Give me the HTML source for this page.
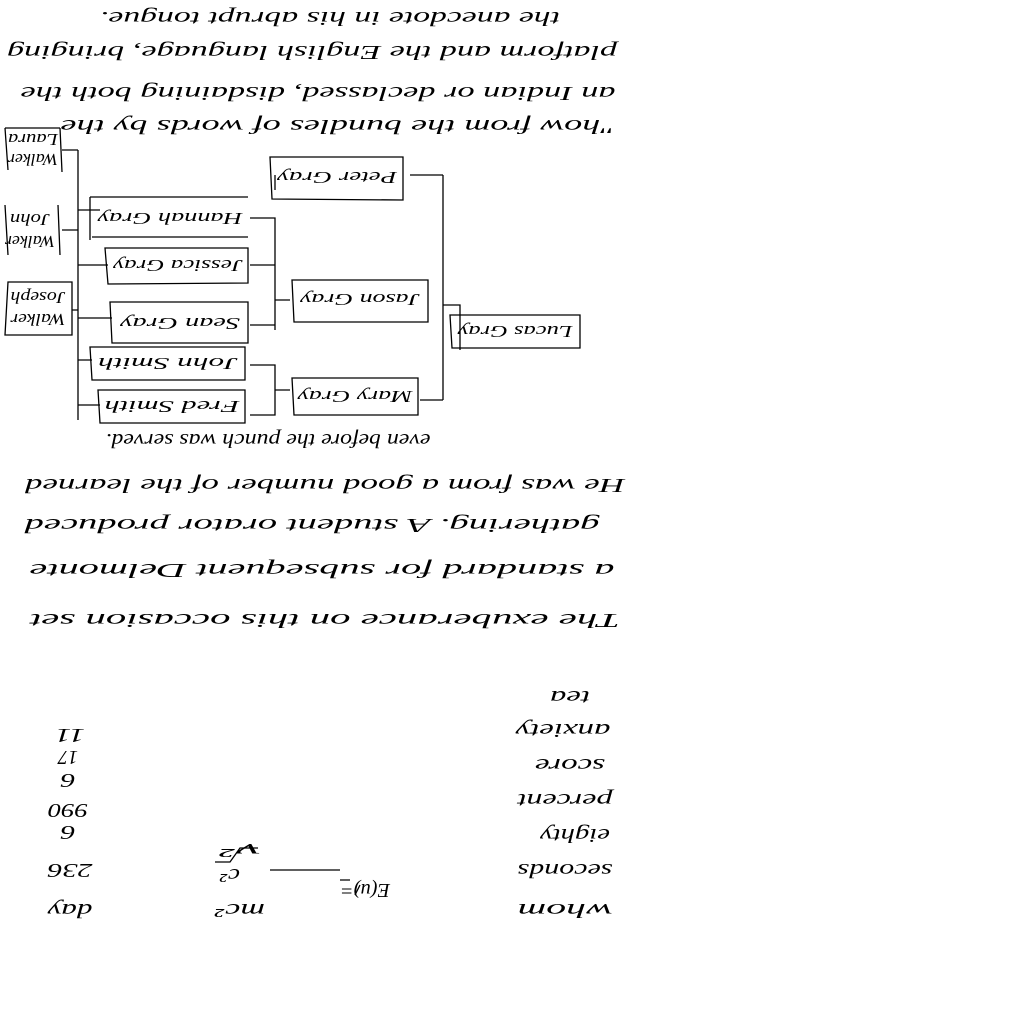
<!DOCTYPE html>
<html><head><meta charset="utf-8"><style>html,body{margin:0;padding:0;background:#fff}</style></head>
<body>
<svg width="1024" height="1024" xmlns="http://www.w3.org/2000/svg" style="display:block">
<rect width="1024" height="1024" fill="#fff"/>
<g fill="none" stroke="#000" stroke-width="1.3">
<!-- boxes -->
<path d="M270 157 L403 157 L403 200 L272 199 Z"/>
<path d="M90 197 L248 197 M90 197 L90 240 M92 237 L248 237"/>
<path d="M105 248 L248 248 L248 283 L108 284 Z"/>
<path d="M110 302 L248 302 L248 343 L112 343 Z"/>
<path d="M90 347 L245 347 L245 380 L92 380 Z"/>
<path d="M98 390 L245 390 L245 423 L100 423 Z"/>
<path d="M292 280 L428 280 L428 322 L294 322 Z"/>
<path d="M292 378 L418 378 L418 415 L294 415 Z"/>
<path d="M450 315 L580 315 L580 348 L452 348 Z"/>
<path d="M5 128 L8 170 M60 128 L62 172 M5 128 L60 128"/>
<path d="M5 205 L8 255 M58 205 L60 255"/>
<path d="M8 282 L72 282 L72 335 L5 335 Z"/>
<!-- connectors -->
<path d="M443 175 L443 400 M410 175 L443 175 M420 400 L443 400 M443 305 L460 305 L460 350"/>
<path d="M78 150 L78 420 M62 150 L78 150 M62 230 L78 230 M72 310 L78 310"/>
<path d="M78 210 L100 210 M78 265 L108 265 M78 318 L112 318 M78 360 L92 360 M78 405 L100 405"/>
<path d="M250 218 L275 218 L275 330 M250 265 L275 265 M250 325 L275 325 M275 300 L290 300 M250 365 L275 365 L275 415 L250 415 M275 390 L290 390 M275 175 L275 190"/>
<!-- formula -->
<path d="M215 862 L230 862 L240 848 L258 848 M270 870 L340 870 M360 885 L355 895 M340 880 L350 880"/>
</g>
<g font-family="Liberation Serif, serif" font-style="italic" fill="#000">
<g font-size="20">
<text transform="rotate(180 330 18)" x="330" y="24" text-anchor="middle" textLength="460" lengthAdjust="spacingAndGlyphs">the anecdote in his abrupt tongue.</text>
<text transform="rotate(180 312 52)" x="312" y="58" text-anchor="middle" textLength="610" lengthAdjust="spacingAndGlyphs">platform and the English language, bringing</text>
<text transform="rotate(180 318 93)" x="318" y="99" text-anchor="middle" textLength="595" lengthAdjust="spacingAndGlyphs">an Indian or declassed, disdaining both the</text>
<text transform="rotate(180 338 126)" x="338" y="132" text-anchor="middle" textLength="555" lengthAdjust="spacingAndGlyphs">"how from the bundles of words by the</text>
<text transform="rotate(180 268 440)" x="268" y="446" text-anchor="middle" textLength="325" lengthAdjust="spacingAndGlyphs">even before the punch was served.</text>
<text transform="rotate(180 325 485)" x="325" y="491" text-anchor="middle" textLength="600" lengthAdjust="spacingAndGlyphs">He was from a good number of the learned</text>
<text transform="rotate(180 312 525)" x="312" y="531" text-anchor="middle" textLength="575" lengthAdjust="spacingAndGlyphs">gathering. A student orator produced</text>
<text transform="rotate(180 322 570)" x="322" y="576" text-anchor="middle" textLength="585" lengthAdjust="spacingAndGlyphs">a standard for subsequent Delmonte</text>
<text transform="rotate(180 325 620)" x="325" y="626" text-anchor="middle" textLength="590" lengthAdjust="spacingAndGlyphs">The exuberance on this occasion set</text>
</g>
<g font-size="17">
<text transform="rotate(180 337 178)" x="337" y="184" text-anchor="middle" textLength="120" lengthAdjust="spacingAndGlyphs">Peter Gray</text>
<text transform="rotate(180 170 219)" x="170" y="225" text-anchor="middle" textLength="145" lengthAdjust="spacingAndGlyphs">Hannah Gray</text>
<text transform="rotate(180 178 266)" x="178" y="272" text-anchor="middle" textLength="130" lengthAdjust="spacingAndGlyphs">Jessica Gray</text>
<text transform="rotate(180 180 324)" x="180" y="330" text-anchor="middle" textLength="120" lengthAdjust="spacingAndGlyphs">Sean Gray</text>
<text transform="rotate(180 168 364)" x="168" y="370" text-anchor="middle" textLength="140" lengthAdjust="spacingAndGlyphs">John Smith</text>
<text transform="rotate(180 172 407)" x="172" y="413" text-anchor="middle" textLength="135" lengthAdjust="spacingAndGlyphs">Fred Smith</text>
<text transform="rotate(180 360 300)" x="360" y="306" text-anchor="middle" textLength="120" lengthAdjust="spacingAndGlyphs">Jason Gray</text>
<text transform="rotate(180 355 397)" x="355" y="403" text-anchor="middle" textLength="115" lengthAdjust="spacingAndGlyphs">Mary Gray</text>
<text transform="rotate(180 515 332)" x="515" y="338" text-anchor="middle" textLength="115" lengthAdjust="spacingAndGlyphs">Lucas Gray</text>
<text transform="rotate(180 33 140)" x="33" y="146" text-anchor="middle" textLength="50" lengthAdjust="spacingAndGlyphs">Laura</text>
<text transform="rotate(180 33 160)" x="33" y="166" text-anchor="middle" textLength="50" lengthAdjust="spacingAndGlyphs">Walker</text>
<text transform="rotate(180 30 220)" x="30" y="226" text-anchor="middle" textLength="40" lengthAdjust="spacingAndGlyphs">John</text>
<text transform="rotate(180 30 242)" x="30" y="248" text-anchor="middle" textLength="50" lengthAdjust="spacingAndGlyphs">Walker</text>
<text transform="rotate(180 38 298)" x="38" y="304" text-anchor="middle" textLength="55" lengthAdjust="spacingAndGlyphs">Joseph</text>
<text transform="rotate(180 38 320)" x="38" y="326" text-anchor="middle" textLength="55" lengthAdjust="spacingAndGlyphs">Walker</text>
</g>
<g font-size="20">
<text transform="rotate(180 570 697)" x="570" y="703" text-anchor="middle" textLength="40" lengthAdjust="spacingAndGlyphs">tea</text>
<text transform="rotate(180 563 730)" x="563" y="736" text-anchor="middle" textLength="95" lengthAdjust="spacingAndGlyphs">anxiety</text>
<text transform="rotate(180 570 765)" x="570" y="771" text-anchor="middle" textLength="70" lengthAdjust="spacingAndGlyphs">score</text>
<text transform="rotate(180 565 800)" x="565" y="806" text-anchor="middle" textLength="95" lengthAdjust="spacingAndGlyphs">percent</text>
<text transform="rotate(180 575 835)" x="575" y="841" text-anchor="middle" textLength="70" lengthAdjust="spacingAndGlyphs">eighty</text>
<text transform="rotate(180 565 870)" x="565" y="876" text-anchor="middle" textLength="95" lengthAdjust="spacingAndGlyphs">seconds</text>
<text transform="rotate(180 565 910)" x="565" y="916" text-anchor="middle" textLength="95" lengthAdjust="spacingAndGlyphs">whom</text>
<text transform="rotate(180 70 735)" x="70" y="741" text-anchor="middle" textLength="30" lengthAdjust="spacingAndGlyphs">11</text>
<text transform="rotate(180 68 757)" x="68" y="763" text-anchor="middle" textLength="20" lengthAdjust="spacingAndGlyphs">17</text>
<text transform="rotate(180 68 780)" x="68" y="786" text-anchor="middle" textLength="15" lengthAdjust="spacingAndGlyphs">6</text>
<text transform="rotate(180 68 810)" x="68" y="816" text-anchor="middle" textLength="40" lengthAdjust="spacingAndGlyphs">990</text>
<text transform="rotate(180 68 832)" x="68" y="838" text-anchor="middle" textLength="15" lengthAdjust="spacingAndGlyphs">6</text>
<text transform="rotate(180 70 870)" x="70" y="876" text-anchor="middle" textLength="45" lengthAdjust="spacingAndGlyphs">236</text>
<text transform="rotate(180 70 910)" x="70" y="916" text-anchor="middle" textLength="45" lengthAdjust="spacingAndGlyphs">day</text>
<text transform="rotate(180 240 910)" x="240" y="916" text-anchor="middle" textLength="50" lengthAdjust="spacingAndGlyphs">mc²</text>
<text transform="rotate(180 240 850)" x="240" y="856" text-anchor="middle" textLength="40" lengthAdjust="spacingAndGlyphs">v²</text>
<text transform="rotate(180 230 875)" x="230" y="881" text-anchor="middle" textLength="20" lengthAdjust="spacingAndGlyphs">c²</text>
<text transform="rotate(180 365 890)" x="365" y="896" text-anchor="middle" textLength="50" lengthAdjust="spacingAndGlyphs">E(u)=</text>
</g>
</g>
</svg>
</body></html>
